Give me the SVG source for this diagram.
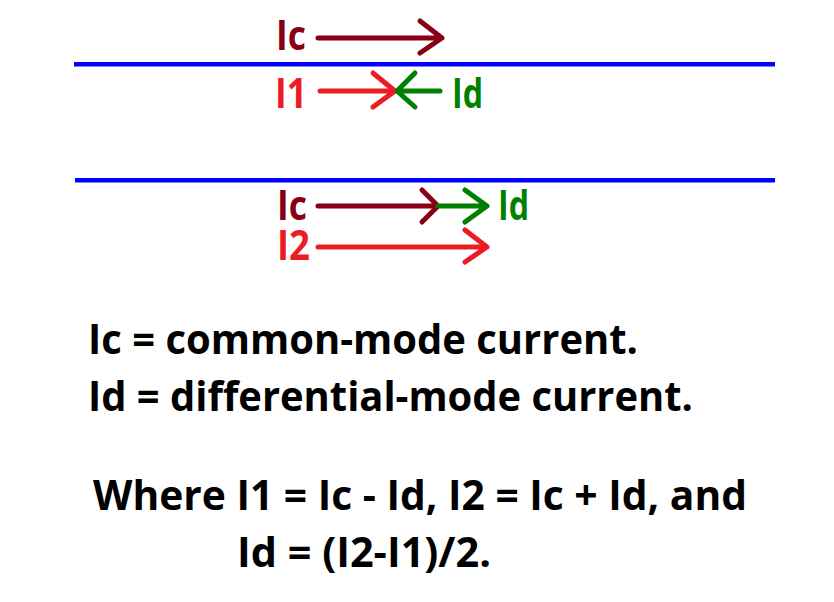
<svg xmlns="http://www.w3.org/2000/svg" width="834" height="602" viewBox="0 0 834 602">
<style>
text{font-family:"Open Sans","Noto Sans","Liberation Sans",sans-serif;font-weight:700}
.lbl{font-size:41px}
.main{font-size:42px;fill:#000}
.dr{stroke:#880015}
.rd{stroke:#ED1C24}
.gr{stroke:#008000}
.arr{fill:none;stroke-width:5;stroke-linecap:round;stroke-linejoin:round}
.wire{stroke:#0000FF;stroke-width:4.5}
</style>
<rect width="834" height="602" fill="#fff"/>
<g id="wires">
<line class="wire" x1="74" y1="64.3" x2="775" y2="64.3"/>
<line class="wire" x1="75" y1="180.3" x2="775" y2="180.3"/>
</g>
<g id="connectors">
<path class="arr dr" d="M318 38H442M420 21L442 38L420 53"/>
<path class="arr rd" d="M320 91H395M373 73L395 91L373 107"/>
<path class="arr gr" d="M440 91H397M415 73L397 91L415 107"/>
<path class="arr dr" d="M318 206H438M422 190L438 206L422 222"/>
<path class="arr gr" d="M438 206H487M465 190L487 206L465 222"/>
<path class="arr rd" d="M318 247H487M465 230L487 247L465 262"/>
</g>
<g id="label-ic-top"><text class="lbl" x="276" y="50" fill="#880015" textLength="30" lengthAdjust="spacingAndGlyphs">Ic</text></g>
<g id="label-i1"><text class="lbl" x="275" y="108" fill="#ED1C24" textLength="32" lengthAdjust="spacingAndGlyphs">I1</text></g>
<g id="label-id-top"><text class="lbl" x="452" y="108" fill="#008000" textLength="31" lengthAdjust="spacingAndGlyphs">Id</text></g>
<g id="label-ic-bottom"><text class="lbl" x="277" y="220" fill="#880015" textLength="30" lengthAdjust="spacingAndGlyphs">Ic</text></g>
<g id="label-id-bottom"><text class="lbl" x="498" y="220" fill="#008000" textLength="31" lengthAdjust="spacingAndGlyphs">Id</text></g>
<g id="label-i2"><text class="lbl" x="277" y="260" fill="#ED1C24" textLength="33" lengthAdjust="spacingAndGlyphs">I2</text></g>
<g id="notes">
<text class="main" x="88" y="354" textLength="550" lengthAdjust="spacingAndGlyphs">Ic = common-mode current.</text>
<text class="main" x="88" y="411" textLength="605" lengthAdjust="spacingAndGlyphs">Id = differential-mode current.</text>
<text class="main" x="93" y="510" textLength="654" lengthAdjust="spacingAndGlyphs">Where I1 = Ic - Id, I2 = Ic + Id, and</text>
<text class="main" x="237" y="567" textLength="254" lengthAdjust="spacingAndGlyphs">Id = (I2-I1)/2.</text>
</g>
</svg>
